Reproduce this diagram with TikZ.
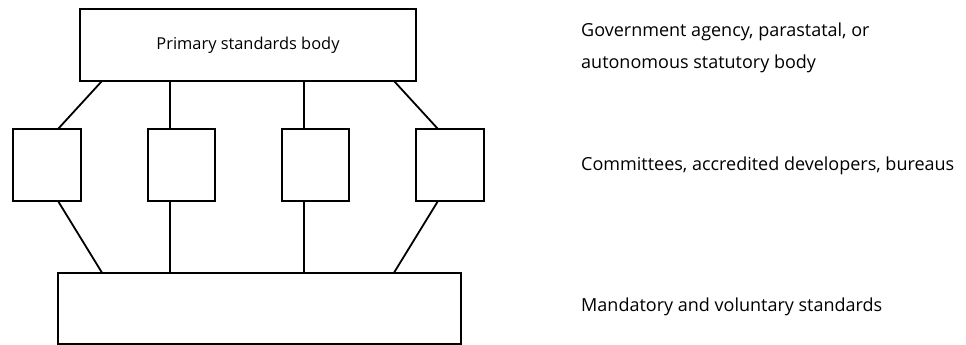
\documentclass[tikz,border=0pt]{standalone}
\usepackage{fontspec}
\setmainfont{Open Sans}
\begin{document}
\begin{tikzpicture}[x=1pt,y=-1pt,
  box/.style={draw, line width=1.8pt, rectangle, inner sep=0pt, outer sep=0pt},
  conn/.style={line width=1.8pt},
  lbl/.style={anchor=base west, inner sep=0pt, font=\fontsize{18}{32}\selectfont, align=left}]
\useasboundingbox (0,0) rectangle (966,345);
\node[box, minimum width=336pt, minimum height=72pt, font=\fontsize{16.4}{18}\selectfont] (top) at (248,45) {Primary standards body};
\node[box, minimum width=68pt, minimum height=72pt] (c1) at (47,165) {};
\node[box, minimum width=67pt, minimum height=72pt] (c2) at (181.5,165) {};
\node[box, minimum width=67pt, minimum height=72pt] (c3) at (315.5,165) {};
\node[box, minimum width=68pt, minimum height=72pt] (c4) at (450,165) {};
\node[box, minimum width=403pt, minimum height=71pt] (bot) at (259.5,308.2) {};
% top connectors
\draw[conn] ([xshift=22pt]top.south west) -- ([xshift=11pt]c1.north);
\draw[conn] ([xshift=90pt]top.south west) -- ([xshift=-11.5pt]c2.north);
\draw[conn] ([xshift=224pt]top.south west) -- ([xshift=-11.5pt]c3.north);
\draw[conn] ([xshift=-22pt]top.south east) -- ([xshift=-12pt]c4.north);
% bottom connectors
\draw[conn] ([xshift=11pt]c1.south) -- ([xshift=44pt]bot.north west);
\draw[conn] ([xshift=-11.5pt]c2.south) -- ([xshift=112pt]bot.north west);
\draw[conn] ([xshift=-11.5pt]c3.south) -- ([xshift=246pt]bot.north west);
\draw[conn] ([xshift=-12pt]c4.south) -- ([xshift=-67pt]bot.north east);
% labels
\node[lbl] (l1) at (581,68.5) {Government agency, parastatal, or\\autonomous statutory body};
\node[lbl] (l2) at (581,170) {Committees, accredited developers, bureaus};
\node[lbl] (l3) at (581,311.5) {Mandatory and voluntary standards};
\end{tikzpicture}
\end{document}
